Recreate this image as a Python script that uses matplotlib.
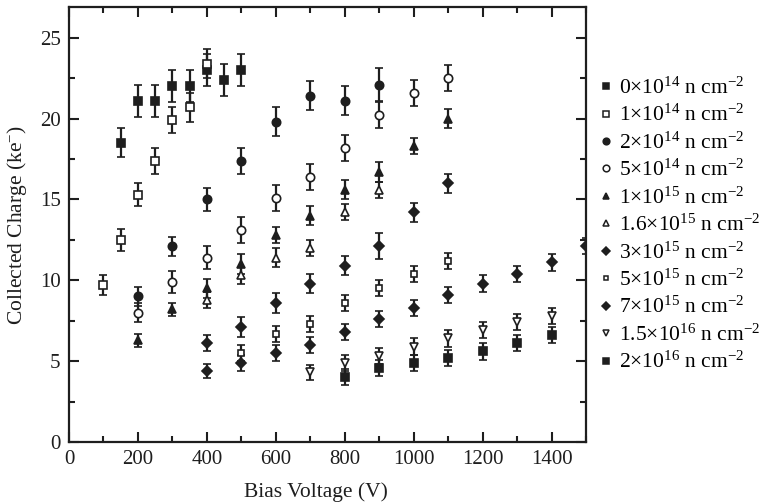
import matplotlib
matplotlib.use("Agg")
import matplotlib.pyplot as plt
from matplotlib.lines import Line2D
from matplotlib.ticker import MultipleLocator

plt.rcParams["font.family"] = ["Liberation Serif", "DejaVu Serif"]
plt.rcParams["mathtext.fontset"] = "custom"
plt.rcParams["mathtext.rm"] = "Liberation Serif"
plt.rcParams["mathtext.it"] = "Liberation Serif:italic"
plt.rcParams["mathtext.default"] = "regular"

# Fluence labels
labels = [
    r"0$\times$10$^{14}$ n cm$^{-2}$",
    r"1$\times$10$^{14}$ n cm$^{-2}$",
    r"2$\times$10$^{14}$ n cm$^{-2}$",
    r"5$\times$10$^{14}$ n cm$^{-2}$",
    r"1$\times$10$^{15}$ n cm$^{-2}$",
    r"1.6$\times$10$^{15}$ n cm$^{-2}$",
    r"3$\times$10$^{15}$ n cm$^{-2}$",
    r"5$\times$10$^{15}$ n cm$^{-2}$",
    r"7$\times$10$^{15}$ n cm$^{-2}$",
    r"1.5$\times$10$^{16}$ n cm$^{-2}$",
    r"2$\times$10$^{16}$ n cm$^{-2}$",
]

# Bias voltage (V), collected charge (ke-) and uncertainty for each fluence
v_0e14 = [150, 200, 250, 300, 350, 400, 450, 500]
q_0e14 = [18.5, 21.1, 21.1, 22.0, 22.0, 23.0, 22.4, 23.0]
e_0e14 = [0.9, 1.0, 1.0, 1.0, 1.0, 1.0, 1.0, 1.0]

v_1e14 = [100, 150, 200, 250, 300, 350, 400]
q_1e14 = [9.7, 12.5, 15.3, 17.4, 19.9, 20.7, 23.4]
e_1e14 = [0.6, 0.7, 0.7, 0.8, 0.8, 0.9, 0.9]

v_2e14 = [200, 300, 400, 500, 600, 700, 800, 900]
q_2e14 = [9.0, 12.1, 15.0, 17.4, 19.8, 21.4, 21.1, 22.1]
e_2e14 = [0.6, 0.6, 0.7, 0.8, 0.9, 0.9, 0.9, 1.0]

v_5e14 = [200, 300, 400, 500, 600, 700, 800, 900, 1000, 1100]
q_5e14 = [8.0, 9.9, 11.4, 13.1, 15.1, 16.4, 18.2, 20.2, 21.6, 22.5]
e_5e14 = [0.6, 0.7, 0.7, 0.8, 0.8, 0.8, 0.8, 0.8, 0.8, 0.8]

v_1e15 = [200, 300, 400, 500, 600, 700, 800, 900, 1000, 1100]
q_1e15 = [6.3, 8.2, 9.5, 11.0, 12.8, 14.0, 15.6, 16.7, 18.3, 20.0]
e_1e15 = [0.4, 0.4, 0.6, 0.6, 0.5, 0.6, 0.6, 0.6, 0.5, 0.6]

v_16e15 = [400, 500, 600, 700, 800, 900]
q_16e15 = [8.8, 10.3, 11.4, 12.0, 14.2, 15.6]
e_16e15 = [0.5, 0.5, 0.6, 0.5, 0.5, 0.5]

v_3e15 = [400, 500, 600, 700, 800, 900, 1000, 1100]
q_3e15 = [6.1, 7.1, 8.6, 9.8, 10.9, 12.1, 14.2, 16.0]
e_3e15 = [0.5, 0.6, 0.6, 0.6, 0.6, 0.8, 0.6, 0.6]

v_5e15 = [500, 600, 700, 800, 900, 1000, 1100]
q_5e15 = [5.5, 6.7, 7.3, 8.6, 9.5, 10.4, 11.2]
e_5e15 = [0.5, 0.5, 0.5, 0.5, 0.5, 0.5, 0.5]

v_7e15 = [400, 500, 600, 700, 800, 900, 1000, 1100, 1200, 1300, 1400, 1500]
q_7e15 = [4.4, 4.9, 5.5, 6.0, 6.8, 7.6, 8.3, 9.1, 9.8, 10.4, 11.1, 12.1]
e_7e15 = [0.45, 0.5, 0.5, 0.5, 0.5, 0.5, 0.5, 0.5, 0.5, 0.5, 0.5, 0.5]

v_15e16 = [700, 800, 900, 1000, 1100, 1200, 1300, 1400]
q_15e16 = [4.3, 4.9, 5.3, 5.9, 6.4, 6.9, 7.4, 7.8]
e_15e16 = [0.45, 0.5, 0.5, 0.5, 0.5, 0.5, 0.5, 0.5]

v_2e16 = [800, 900, 1000, 1100, 1200, 1300, 1400]
q_2e16 = [4.0, 4.6, 4.9, 5.2, 5.6, 6.1, 6.6]
e_2e16 = [0.5, 0.5, 0.5, 0.5, 0.5, 0.5, 0.5]

series = [
    (v_0e14, q_0e14, e_0e14, "s", True, 5.5),
    (v_1e14, q_1e14, e_1e14, "s", False, 5.5),
    (v_2e14, q_2e14, e_2e14, "o", True, 6),
    (v_5e14, q_5e14, e_5e14, "o", False, 6),
    (v_1e15, q_1e15, e_1e15, "^", True, 6),
    (v_16e15, q_16e15, e_16e15, "^", False, 6),
    (v_3e15, q_3e15, e_3e15, "D", True, 5.5),
    (v_5e15, q_5e15, e_5e15, "s", False, 4.5),
    (v_7e15, q_7e15, e_7e15, "D", True, 5.5),
    (v_15e16, q_15e16, e_15e16, "v", False, 6),
    (v_2e16, q_2e16, e_2e16, "s", True, 5.5),
]

ink = "#1e1e1e"

fig = plt.figure(figsize=(7.66, 5.03), dpi=100)
ax = fig.add_axes([0.0901, 0.1213, 0.6749, 0.8648])

handles = []
for (v, q, e, m, filled, ms), lab in zip(series, labels):
    fc = ink if filled else "white"
    ax.errorbar(v, q, yerr=e, fmt=m, ms=ms, mfc=fc, mec=ink, mew=1.2,
                ecolor=ink, elinewidth=1.6, capsize=3.2, capthick=1.6,
                color=ink, zorder=3, clip_on=True)
    handles.append(Line2D([], [], linestyle="none", marker=m, ms=ms - 1.2,
                          mfc=fc, mec=ink, mew=1.1, label=lab))

ax.set_xlim(0, 1500)
ax.set_ylim(0, 26.9)
ax.xaxis.set_major_locator(MultipleLocator(200))
ax.xaxis.set_minor_locator(MultipleLocator(100))
ax.yaxis.set_major_locator(MultipleLocator(5))
ax.yaxis.set_minor_locator(MultipleLocator(2.5))
ax.tick_params(which="both", direction="in", top=True, right=True,
               color=ink, width=1.5, labelsize=15, labelcolor=ink)
ax.tick_params(which="major", length=7, pad=6)
ax.tick_params(which="minor", length=4)
for sp in ax.spines.values():
    sp.set_linewidth(1.6)
    sp.set_color(ink)
    sp.set_zorder(4)

ax.set_xlabel("Bias Voltage (V)", fontsize=15.5, color=ink, labelpad=10)
ax.xaxis.set_label_coords(0.478, -0.092)
ax.set_ylabel(r"Collected Charge (ke$^{-}$)", fontsize=15.5, color=ink, labelpad=8)

fig.legend(handles=handles, loc="upper left", bbox_to_anchor=(0.781, 0.846),
           frameon=False, fontsize=15.5, handlelength=0.7, handletextpad=0.25,
           labelspacing=0.29, borderaxespad=0, borderpad=0)

fig.savefig("out.png", dpi=100, facecolor="white")
